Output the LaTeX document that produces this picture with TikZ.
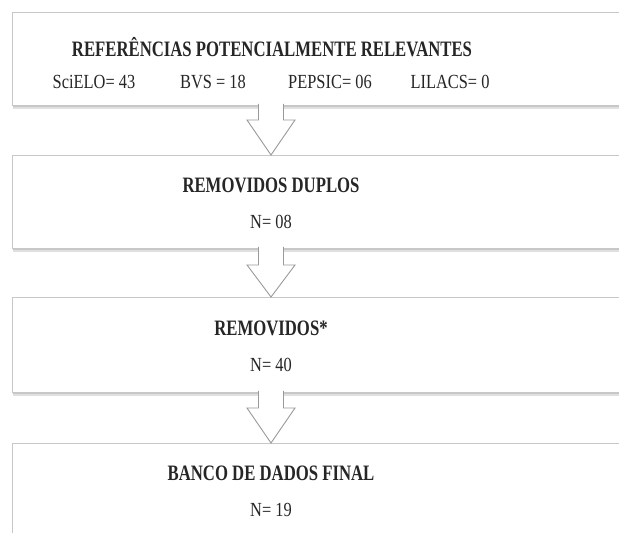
\documentclass[tikz,border=0pt]{standalone}
\usepackage{fontspec}
\usepackage{graphicx}
\setmainfont{Liberation Serif}
\newcommand{\sqt}[1]{\scalebox{0.76}[1]{#1}}
\newcommand{\sqn}[1]{\scalebox{0.82}[1]{#1}}
\begin{document}
\begin{tikzpicture}[x=1pt,y=1pt,
  box/.style={draw=black!22, line width=1pt, fill=white, rectangle, anchor=north west, inner sep=0pt},
  ttl/.style={font=\fontsize{22}{24}\selectfont\bfseries, text=black!85, inner sep=0pt},
  num/.style={font=\fontsize{20}{22}\selectfont, text=black!85, inner sep=0pt},
  barrow/.style={draw=black!40, line width=0.9pt, fill=white, line join=miter}
]
\useasboundingbox (0,0) rectangle (619,533);
\clip (0,0) rectangle (619,533);
% shadows
\foreach \b in {428, 285, 141}{
  \fill[black!12] (13,\b-0.5) rectangle (630,\b-4.5);
  \fill[black!22] (13,\b-0.5) rectangle (630,\b-2.5);
}
% boxes
\node[box, minimum width=618pt, minimum height=93pt] (b1) at (12,521) {};
\node[box, minimum width=618pt, minimum height=93pt] (b2) at (12,378) {};
\node[box, minimum width=618pt, minimum height=95pt] (b3) at (12,236) {};
\node[box, minimum width=618pt, minimum height=110pt] (b4) at (12,90) {};
% texts
\node[ttl] (t1) at (272,486) {\sqt{REFERÊNCIAS POTENCIALMENTE RELEVANTES}};
\node[num] (s1) at (94,451) {\sqn{SciELO= 43}};
\node[num] (s2) at (213,451) {\sqn{BVS = 18}};
\node[num] (s3) at (330,451) {\sqn{PEPSIC= 06}};
\node[num] (s4) at (450,451) {\sqn{LILACS= 0}};
\node[ttl] (t2) at (271,348) {\sqt{REMOVIDOS DUPLOS}};
\node[num] (n2) at (271,311) {\sqn{N= 08}};
\node[ttl] (t3) at (271,205) {\sqt{REMOVIDOS*}};
\node[num] (n3) at (271,168) {\sqn{N= 40}};
\node[ttl] (t4) at (271,60) {\sqt{BANCO DE DADOS FINAL}};
\node[num] (n4) at (271,23) {\sqn{N= 19}};
% block arrows
\foreach \top/\sh/\tip in {429/413/378, 286/268/236, 142/125/90}{
  \draw[barrow] (258.5,\top) -- (258.5,\sh) -- (247,\sh) -- (271,\tip) -- (295,\sh) -- (283.5,\sh) -- (283.5,\top);
}
\end{tikzpicture}
\end{document}
